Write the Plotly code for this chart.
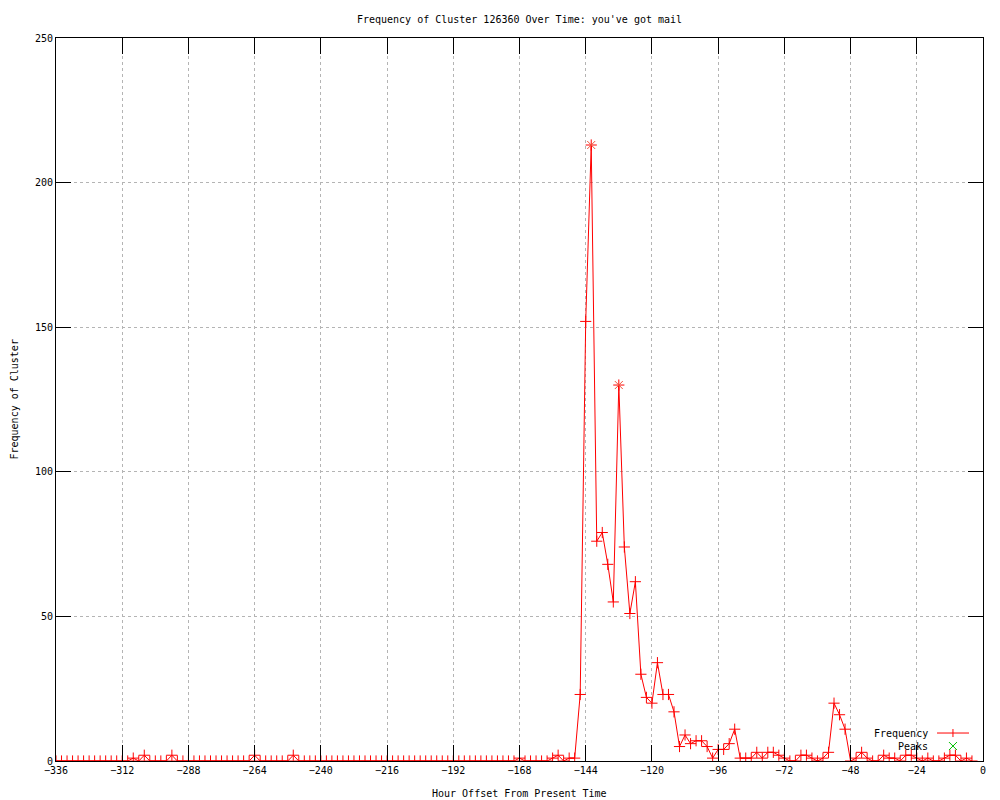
import plotly.graph_objects as go

# hour offsets, one sample every 2 hours
hours = list(range(-336, -3, 2))

frequency = [
    0, 0, 0, 0, 0, 0, 0, 0, 0, 0, 0, 0,            # -336 .. -314
    0, 0, 1, 0, 2, 0, 0, 0, 0, 2, 0, 0,            # -312 .. -290
    0, 0, 0, 0, 0, 0, 0, 0, 0, 0, 0, 0,            # -288 .. -266
    2, 0, 0, 0, 0, 0, 0, 2, 0, 0, 0, 0,            # -264 .. -242
    0, 0, 0, 0, 0, 0, 0, 0, 0, 0, 0, 0,            # -240 .. -218
    0, 0, 0, 0, 0, 0, 0, 0, 0, 0, 0, 0,            # -216 .. -194
    0, 0, 0, 0, 0, 0, 0, 0, 0, 0, 0, 0,            # -192 .. -170
    1, 0, 0, 0, 0, 0, 1, 2, 0, 1, 1, 23,           # -168 .. -146
    152, 213, 76, 79, 68, 55, 130, 74, 51, 62, 30, 22,  # -144 .. -122
    20, 34, 23, 23, 17, 5, 9, 6, 7, 7, 5, 1,       # -120 .. -98
    4, 4, 6, 11, 1, 1, 1, 3, 1, 3, 3, 2,           # -96 .. -74
    1, 0, 0, 2, 2, 1, 0, 1, 3, 20, 16, 11,         # -72 .. -50
    0, 1, 3, 1, 0, 0, 2, 1, 1, 0, 2, 2,            # -48 .. -26
    1, 0, 1, 0, 0, 1, 2, 2, 0, 1, 0,               # -24 .. -4
]

peak_hours = [-142, -132]
peak_values = [213, 130]

x_ticks = list(range(-336, 1, 24))
y_ticks = [0, 50, 100, 150, 200, 250]

FONT = "DejaVu Sans Mono"

fig = go.Figure()

fig.add_trace(go.Scatter(
    x=hours, y=frequency, mode="lines+markers", name="Frequency",
    line=dict(color="#ff0000", width=1),
    marker=dict(symbol="cross-thin-open", size=8, line=dict(color="#ff0000", width=1)),
))
fig.add_trace(go.Scatter(
    x=peak_hours, y=peak_values, mode="markers", name="Peaks",
    marker=dict(symbol="x-thin-open", size=8, line=dict(color="#00c000", width=1)),
))

axis_common = dict(
    showline=True, linecolor="black", linewidth=1, mirror="ticks",
    ticks="inside", tickcolor="black", tickwidth=1,
    showgrid=True, gridcolor="#b4b4b4", griddash="dot", gridwidth=1,
    zeroline=False, tickfont=dict(family=FONT, size=10, color="black"),
)

fig.update_xaxes(range=[-336, 0], tickvals=x_ticks, ticklen=16, **axis_common)
fig.update_yaxes(range=[0, 250], tickvals=y_ticks, ticklen=15, **axis_common)

# gnuplot-style key: text on the left, sample on the right
key_x_text = 0.9428
key_x_mid = 0.9676
key_y = [0.0387, 0.0207]
dx, dy = 4 / 927, 4 / 723

annotations = []
for label, ypos in zip(["Frequency", "Peaks"], key_y):
    annotations.append(dict(text=label, x=key_x_text, y=ypos, xref="paper", yref="paper",
                            xanchor="right", yanchor="middle", showarrow=False,
                            font=dict(family=FONT, size=10, color="black")))

red = dict(color="#ff0000", width=1)
green = dict(color="#00c000", width=1)
shapes = [
    # Frequency sample: line with a "+" in the middle
    dict(type="line", xref="paper", yref="paper", x0=0.9504, x1=0.9849,
         y0=key_y[0], y1=key_y[0], line=red),
    dict(type="line", xref="paper", yref="paper", x0=key_x_mid, x1=key_x_mid,
         y0=key_y[0] - dy, y1=key_y[0] + dy, line=red),
    # Peaks sample: green "x"
    dict(type="line", xref="paper", yref="paper", x0=key_x_mid - dx, x1=key_x_mid + dx,
         y0=key_y[1] - dy, y1=key_y[1] + dy, line=green),
    dict(type="line", xref="paper", yref="paper", x0=key_x_mid - dx, x1=key_x_mid + dx,
         y0=key_y[1] + dy, y1=key_y[1] - dy, line=green),
]

annotations.append(dict(text="Frequency of Cluster", x=-0.0453, y=0.5, xref="paper", yref="paper",
                        textangle=-90, showarrow=False, xanchor="center", yanchor="middle",
                        font=dict(family=FONT, size=10, color="black")))
annotations.append(dict(text="Hour Offset From Present Time", x=0.5, y=-0.0443, xref="paper",
                        yref="paper", showarrow=False, xanchor="center", yanchor="middle",
                        font=dict(family=FONT, size=10, color="black")))

fig.update_layout(
    width=1000, height=800,
    margin=dict(l=56, r=17, t=38, b=39),
    paper_bgcolor="white", plot_bgcolor="white",
    title=dict(text="Frequency of Cluster 126360 Over Time: you've got mail",
               x=0.5, xref="paper", y=1 - 19 / 800, yanchor="middle",
               font=dict(family=FONT, size=10, color="black")),
    showlegend=False,
    annotations=annotations,
    shapes=shapes,
)

fig.write_html("out.html", config={"displayModeBar": False},
               post_script="document.body.style.margin='0';")
